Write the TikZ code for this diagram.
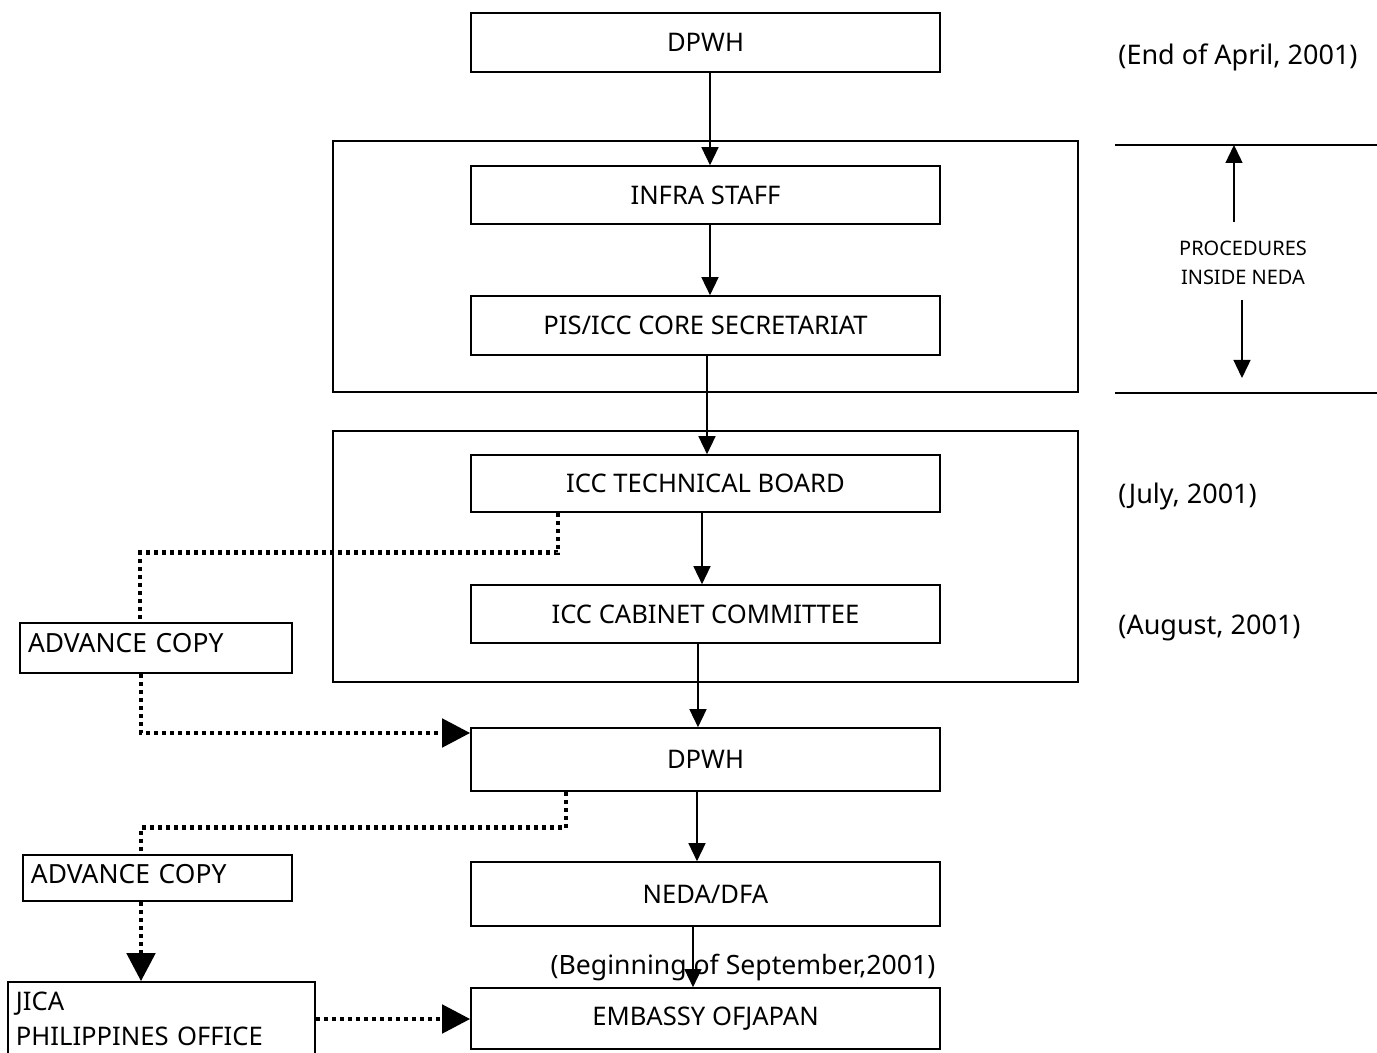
\documentclass[tikz,border=0pt]{standalone}
\usepackage{fontspec}
\setmainfont{Noto Sans}
\usetikzlibrary{arrows.meta}
\begin{document}
\begin{tikzpicture}[x=0.5pt,y=-0.5pt,
  box/.style={draw, line width=0.8pt, minimum width=234.5pt, inner sep=0pt, font=\fontsize{12.8}{15}\selectfont},
  frame/.style={draw, line width=0.8pt, inner sep=0pt, minimum width=372.5pt, minimum height=125.5pt},
  side/.style={draw, line width=0.8pt, inner xsep=4pt, inner ysep=0pt, align=left, font=\fontsize{13.2}{17.5}\selectfont},
  arr/.style={line width=0.7pt, -{Triangle[length=9pt,width=8.5pt]}},
  dots/.style={line width=2.4pt, dash pattern=on 2pt off 2pt},
  dotarr/.style={dots, -{Triangle[length=14pt,width=14pt]}},
  date/.style={anchor=west, inner sep=0pt, font=\fontsize{13.5}{15}\selectfont},
  rule/.style={line width=0.7pt},
]
\useasboundingbox (0,0) rectangle (1377,1053);

% frames
\node[frame] (nedaframe) at (705.5,266.5) {};
\node[frame] (iccframe) at (705.5,556.5) {};

% main column
\node[box, minimum height=29.5pt] (dpwhA) at (705.5,42.5) {DPWH};
\node[box, minimum height=29pt] (infra) at (705.5,195) {INFRA STAFF};
\node[box, minimum height=29.5pt] (pis) at (705.5,325.5) {PIS/ICC CORE SECRETARIAT};
\node[box, minimum height=28.5pt] (tb) at (705.5,483.5) {ICC TECHNICAL BOARD};
\node[box, minimum height=29pt] (cc) at (705.5,614) {ICC CABINET COMMITTEE};
\node[box, minimum height=31.5pt] (dpwhB) at (705.5,759.5) {DPWH};
\node[box, minimum height=32pt] (neda) at (705.5,894) {NEDA/DFA};
\node[box, minimum height=30.5pt] (emb) at (705.5,1018.5) {EMBASSY OFJAPAN};

% left column
\node[side, minimum height=25pt, text width=128pt, text depth=5pt] (acA) at (156,648) {ADVANCE COPY};
\node[side, minimum height=23pt, text width=126.5pt, text depth=4pt] (acB) at (157.5,878) {ADVANCE COPY};
\node[side, minimum height=37pt, text width=145.5pt, font=\fontsize{12.8}{17.5}\selectfont] (jica) at (161.5,1019) {JICA\\PHILIPPINES OFFICE};

% dates
\node[date] (d1) at (1118,57) {(End of April, 2001)};
\node[date] (d2) at (1118,496) {(July, 2001)};
\node[date] (d3) at (1118,628) {(August, 2001)};
\node[inner sep=0pt, font=\fontsize{13.3}{15}\selectfont] (d4) at (743,968) {(Beginning of September,2001)};

% solid arrows
\draw[arr] ([xshift=2.25pt]dpwhA.south) -- ([xshift=2.25pt]infra.north);
\draw[arr] ([xshift=2.25pt]infra.south) -- ([xshift=2.25pt]pis.north);
\draw[arr] ([xshift=0.75pt]pis.south) -- ([xshift=0.75pt]tb.north);
\draw[arr] ([xshift=-1.75pt]tb.south) -- ([xshift=-1.75pt]cc.north);
\draw[arr] ([xshift=-3.75pt]cc.south) -- ([xshift=-3.75pt]dpwhB.north);
\draw[arr] ([xshift=-4.25pt]dpwhB.south) -- ([xshift=-4.25pt]neda.north);
\draw[arr] ([xshift=-6.25pt]neda.south) -- ([xshift=-6.25pt]emb.north);

% dotted connectors
\draw[dots] ([xshift=-73.75pt]tb.south) -- ++(0,40) -| ([xshift=-8pt]acA.north);
\draw[dotarr] ([xshift=-7.5pt]acA.south) |- ([yshift=13.25pt]dpwhB.west);
\draw[dots] ([xshift=-69.75pt]dpwhB.south) -- ++(0,36) -| ([xshift=-8.25pt]acB.north);
\draw[dotarr] ([xshift=-8.25pt]acB.south) -- ([xshift=-8.25pt]acB.south |- jica.north);
\draw[dotarr] (jica.east) -- (emb.west |- jica.east);

% procedures inside NEDA
\coordinate (l1a) at (1115,145);
\coordinate (l1b) at (1377,145);
\coordinate (l2a) at (1115,393);
\coordinate (l2b) at (1377,393);
\draw[rule] (l1a) -- (l1b);
\draw[rule] (l2a) -- (l2b);
\node[align=center, inner sep=0pt, font=\fontsize{10}{14.5}\selectfont] (proc) at (1243,263) {PROCEDURES\\INSIDE NEDA};
\coordinate (upS) at (1234,222);
\coordinate (dnS) at (1242,300);
\coordinate (dnE) at (1242,378);
\draw[arr] (upS) -- (upS |- l1a);
\draw[arr] (dnS) -- (dnE);
\end{tikzpicture}
\end{document}
